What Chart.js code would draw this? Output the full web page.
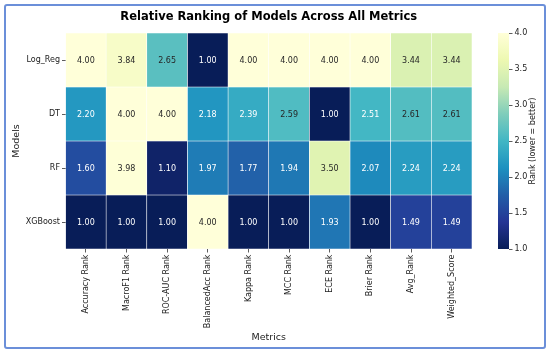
<!DOCTYPE html>
<html><head><meta charset="utf-8">
<script src="https://cdn.jsdelivr.net/npm/chart.js@4.4.1/dist/chart.umd.min.js"></script>
<style>
html,body{margin:0;padding:0;background:#fff;}
#wrap{position:relative;width:550px;height:355px;overflow:hidden;background:#fff;}
canvas{position:absolute;left:0;top:0;}
#frame{position:absolute;left:4px;top:4px;width:538px;height:341px;border:2px solid #6b8fd9;border-radius:3px;pointer-events:none;}
</style></head>
<body>
<div id="wrap"><canvas id="heat" width="550" height="355"></canvas><canvas id="cbar" width="550" height="355"></canvas><div id="frame"></div></div>
<script>
const metrics = ['Accuracy Rank','MacroF1 Rank','ROC-AUC Rank','BalancedAcc Rank','Kappa Rank','MCC Rank','ECE Rank','Brier Rank','Avg_Rank','Weighted_Score'];
const models = ['Log_Reg','DT','RF','XGBoost'];
const logRegRanks = [4.00,3.84,2.65,1.00,4.00,4.00,4.00,4.00,3.44,3.44];
const dtRanks     = [2.20,4.00,4.00,2.18,2.39,2.59,1.00,2.51,2.61,2.61];
const rfRanks     = [1.60,3.98,1.10,1.97,1.77,1.94,3.50,2.07,2.24,2.24];
const xgbRanks    = [1.00,1.00,1.00,4.00,1.00,1.00,1.93,1.00,1.49,1.49];
const rankRows = [logRegRanks, dtRanks, rfRanks, xgbRanks];
const colorbarTicks = [1.0,1.5,2.0,2.5,3.0,3.5,4.0];
const vMin = 1, vMax = 4;

// YlGnBu_r : low rank = dark navy, high rank = light yellow
const YLGNBU = [[255,255,217],[237,248,177],[199,233,180],[127,205,187],[65,182,196],[29,145,192],[34,94,168],[37,52,148],[8,29,88]];
function cmapRGB(v){
  let t=(vMax-v)/(vMax-vMin); t=Math.min(1,Math.max(0,t));
  const p=t*8; const i=Math.min(7,Math.floor(p)); const f=p-i;
  const a=YLGNBU[i], b=YLGNBU[i+1];
  return a.map((c,k)=>c+(b[k]-c)*f);
}
function cmap(v){ return 'rgb('+cmapRGB(v).map(Math.round).join(',')+')'; }
function luminance(rgb){
  const l=rgb.map(c=>{c/=255; return c<=0.03928? c/12.92 : Math.pow((c+0.055)/1.055,2.4);});
  return 0.2126*l[0]+0.7152*l[1]+0.0722*l[2];
}
const FONT='"DejaVu Sans", sans-serif';
const TXT='#222';

const cellLabels = {id:'cellLabels', afterDatasetsDraw(chart){
  const ctx=chart.ctx; ctx.save();
  ctx.font='8px '+FONT; ctx.textAlign='center'; ctx.textBaseline='middle';
  chart.data.datasets.forEach((ds,di)=>{
    const meta=chart.getDatasetMeta(di);
    meta.data.forEach((el,i)=>{
      const v=ds.ranks[i];
      ctx.fillStyle = luminance(cmapRGB(v))>0.408 ? '#262626' : '#ffffff';
      ctx.fillText(v.toFixed(2), el.x, (el.y+el.base)/2+0.5);
    });
  });
  ctx.restore();
}};

new Chart(document.getElementById('heat'), {
  type:'bar',
  data:{
    labels: metrics,
    datasets: rankRows.map((row,r)=>({
      label: models[r],
      data: metrics.map(()=>[r, r+1]),
      ranks: row,
      backgroundColor: row.map(cmap),
      borderColor:'#ffffff', borderWidth:0.6, borderSkipped:false,
      grouped:false, barPercentage:1, categoryPercentage:1
    }))
  },
  options:{
    responsive:false, animation:false, devicePixelRatio:1,
    layout:{padding:{left:0,right:78,top:0,bottom:0}},
    plugins:{
      legend:{display:false}, tooltip:{enabled:false},
      title:{display:true, text:'Relative Ranking of Models Across All Metrics', fullSize:false, color:'#000',
        font:{family:FONT, size:11.5, weight:'bold'}, padding:{top:10.6,bottom:8.6}}
    },
    scales:{
      x:{type:'category', offset:true,
        grid:{display:true, drawOnChartArea:false, drawTicks:true, tickLength:3.5, offset:false, color:'#333', lineWidth:0.8},
        border:{display:false},
        ticks:{minRotation:90, maxRotation:90, autoSkip:false, padding:2, color:TXT, font:{family:FONT,size:8}},
        title:{display:true, text:'Metrics', color:TXT, font:{family:FONT,size:9.5}, padding:{top:0,bottom:12}},
        afterFit(s){ s.height=106; }
      },
      y:{type:'linear', min:0, max:4, reverse:true,
        afterBuildTicks(s){ s.ticks = models.map((m,i)=>({value:i+0.5})); },
        grid:{display:true, drawOnChartArea:false, drawTicks:true, tickLength:3.5, color:'#333', lineWidth:0.8},
        border:{display:false},
        ticks:{callback:(v)=>models[Math.floor(v)], padding:2, color:TXT, font:{family:FONT,size:8}},
        title:{display:true, text:'Models', color:TXT, font:{family:FONT,size:9.5}, padding:{top:11,bottom:0}},
        afterFit(s){ s.width=65.5; }
      }
    }
  },
  plugins:[cellLabels]
});

const cbarLabel = {id:'cbarLabel', afterDraw(chart){
  const ctx=chart.ctx, a=chart.chartArea, s=chart.scales.y;
  ctx.save();
  ctx.translate(s.left+24, (a.top+a.bottom)/2);
  ctx.rotate(-Math.PI/2);
  ctx.font='8px '+FONT; ctx.fillStyle=TXT; ctx.textAlign='center'; ctx.textBaseline='middle';
  ctx.fillText('Rank (lower = better)', 0, 0);
  ctx.restore();
}};

new Chart(document.getElementById('cbar'), {
  type:'bar',
  data:{labels:[''], datasets:[{
    data:[[vMin,vMax]],
    backgroundColor:(c)=>{
      const ch=c.chart; if(!ch.chartArea) return 'rgba(0,0,0,0)';
      const ys=ch.scales.y;
      const g=ch.ctx.createLinearGradient(0, ys.getPixelForValue(vMin), 0, ys.getPixelForValue(vMax));
      for(let k=0;k<=32;k++){ const v=vMin+(vMax-vMin)*k/32; g.addColorStop(k/32, cmap(v)); }
      return g;
    },
    borderWidth:0, barPercentage:1, categoryPercentage:1
  }]},
  options:{
    responsive:false, animation:false, devicePixelRatio:1,
    layout:{padding:{left:498, right:0, top:33, bottom:106}},
    plugins:{legend:{display:false}, tooltip:{enabled:false}},
    scales:{
      x:{display:false},
      y:{position:'right', min:vMin, max:vMax,
        afterBuildTicks(s){ s.ticks = colorbarTicks.map(v=>({value:v})); },
        ticks:{callback:(v)=>Number(v).toFixed(1), padding:2, color:TXT, font:{family:FONT,size:8}},
        grid:{display:true, drawOnChartArea:false, drawTicks:true, tickLength:3.5, color:'#333', lineWidth:0.8},
        border:{display:false},
        afterFit(s){ s.width=41; }
      }
    }
  },
  plugins:[cbarLabel]
});
</script>
</body></html>
